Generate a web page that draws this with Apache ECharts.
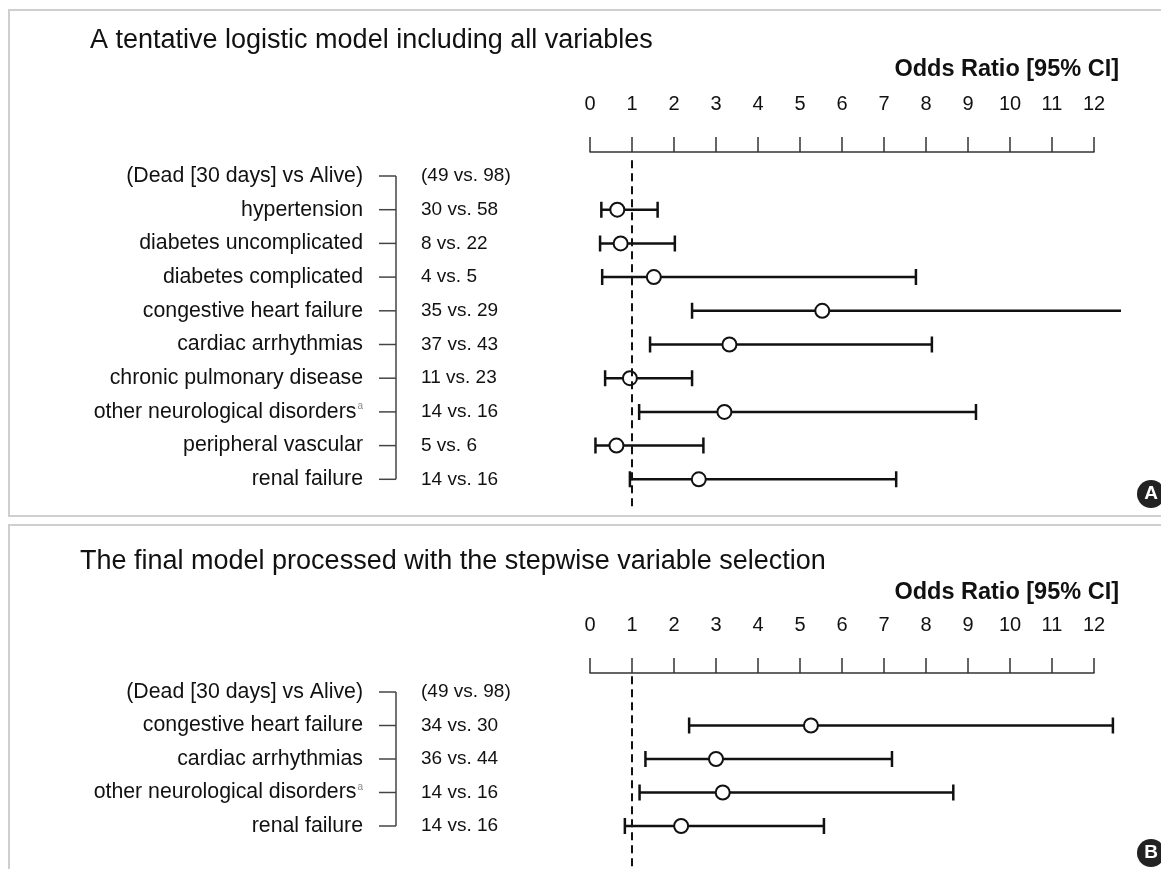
<!DOCTYPE html>
<html><head><meta charset="utf-8">
<script src="https://cdn.jsdelivr.net/npm/echarts@6/dist/echarts.min.js"></script>
<style>html,body{margin:0;padding:0;background:#fff}#c{width:1161px;height:869px}</style>
</head><body><div id="c"></div>
<script>
// ---------- data ----------
const headerLabel = '(Dead [30 days] vs Alive)';
const headerCount = '(49 vs. 98)';
const titleA = 'A tentative logistic model including all variables';
const titleB = 'The final model processed with the stepwise variable selection';
const axisTitle = 'Odds Ratio [95% CI]';
const tickValues = [0,1,2,3,4,5,6,7,8,9,10,11,12];

const rowsA = ['hypertension','diabetes uncomplicated','diabetes complicated','congestive heart failure','cardiac arrhythmias','chronic pulmonary disease','other neurological disorders^a','peripheral vascular','renal failure'];
const countsA = ['30 vs. 58','8 vs. 22','4 vs. 5','35 vs. 29','37 vs. 43','11 vs. 23','14 vs. 16','5 vs. 6','14 vs. 16'];
const orA  = [0.65,0.73,1.52,5.53,3.32,0.95,3.20,0.63,2.59];
const lowA = [0.27,0.24,0.29,2.43,1.43,0.36,1.17,0.13,0.95];
const upA  = [1.61,2.02,7.76,13.5,8.14,2.43,9.19,2.70,7.29];

const rowsB = ['congestive heart failure','cardiac arrhythmias','other neurological disorders^a','renal failure'];
const countsB = ['34 vs. 30','36 vs. 44','14 vs. 16','14 vs. 16'];
const orB  = [5.26,3.00,3.16,2.17];
const lowB = [2.36,1.32,1.18,0.83];
const upB  = [12.45,7.19,8.65,5.57];

// ---------- build ----------
const FONT = '"Liberation Sans", Arial, Helvetica, sans-serif';
const catsA = [headerLabel].concat(rowsA);
const catsB = [headerLabel].concat(rowsB);
const cntA = [headerCount].concat(countsA);
const cntB = [headerCount].concat(countsB);

function labelFmt(v){
  return v.endsWith('^a') ? '{n|' + v.slice(0,-2) + '}{s|a}' : '{n|' + v + '}';
}
const labelRich = {
  n: {fontSize: 21.3, color: '#111', fontFamily: FONT},
  s: {fontSize: 10, color: '#888', fontFamily: FONT, verticalAlign: 'top', padding: [0,0,10,1]}
};

function axisX(gridIndex){
  return {
    gridIndex, type: 'value', min: 0, max: 12, interval: 1, position: 'top',
    axisLine: {show: true, onZero: false, lineStyle: {color: '#333', width: 1.5}},
    axisTick: {show: true, length: 15, lineStyle: {color: '#333', width: 1.5}},
    axisLabel: {fontSize: 20, color: '#111', margin: 38, fontFamily: FONT,
      formatter: v => tickValues.indexOf(v) >= 0 ? String(v) : ''},
    splitLine: {show: false}
  };
}
function dataX(gridIndex){
  return {gridIndex, type: 'value', min: 0, max: 12.62, show: false};
}
function dataY(gridIndex, cats){
  return {
    gridIndex, type: 'category', inverse: true, data: cats, position: 'left',
    axisLine: {show: false}, axisTick: {show: false}, splitLine: {show: false},
    axisLabel: {margin: 227, formatter: labelFmt, rich: labelRich}
  };
}

function ciSeries(xi, yi, low, est, up){
  const data = low.map((l, k) => [k + 1, l, est[k], up[k]]);
  return {
    type: 'custom', xAxisIndex: xi, yAxisIndex: yi, clip: true, silent: true, z: 2,
    encode: {x: [1, 3], y: 0},
    data,
    renderItem(params, api){
      const r = api.value(0);
      const y = api.coord([0, r])[1];
      const xl = api.coord([api.value(1), r])[0];
      const xu = api.coord([api.value(3), r])[0];
      const st = {stroke: '#111', lineWidth: 2.5};
      return {type: 'group', children: [
        {type: 'line', shape: {x1: xl, y1: y, x2: xu, y2: y}, style: st},
        {type: 'line', shape: {x1: xl, y1: y - 8, x2: xl, y2: y + 8}, style: st},
        {type: 'line', shape: {x1: xu, y1: y - 8, x2: xu, y2: y + 8}, style: st}
      ]};
    }
  };
}
function pointSeries(xi, yi, est){
  return {
    type: 'scatter', xAxisIndex: xi, yAxisIndex: yi, silent: true, z: 3,
    symbol: 'circle', symbolSize: 14,
    itemStyle: {color: '#fff', borderColor: '#111', borderWidth: 2, opacity: 1},
    data: est.map((e, k) => [e, k + 1])
  };
}
function refSeries(xi, yi, ext){
  return {
    type: 'custom', xAxisIndex: xi, yAxisIndex: yi, clip: false, silent: true, z: 4,
    data: [[1, 0]],
    renderItem(params, api){
      const x = api.coord([api.value(0), 0])[0];
      const cs = params.coordSys;
      return {type: 'line', shape: {x1: x, y1: cs.y + 1, x2: x, y2: cs.y + cs.height + ext},
        style: {stroke: '#111', lineWidth: 2, lineDash: [8, 5]}};
    }
  };
}
function countSeries(xi, yi, counts){
  const n = counts.length;
  return {
    type: 'custom', xAxisIndex: xi, yAxisIndex: yi, clip: false, silent: true, z: 2,
    data: counts.map((c, k) => [0, k]),
    renderItem(params, api){
      const k = api.value(1);
      const y = api.coord([0, k])[1];
      const cs = params.coordSys;
      const bx = cs.x - 194;
      const st = {stroke: '#444', lineWidth: 1.5};
      const ch = [
        {type: 'text', style: {text: counts[k], x: cs.x - 169, y: y, textVerticalAlign: 'middle',
          textAlign: 'left', font: '19px ' + FONT, fill: '#111'}},
        {type: 'line', shape: {x1: bx - 17, y1: y, x2: bx, y2: y}, style: st}
      ];
      if (k === 0) {
        const yl = api.coord([0, n - 1])[1];
        ch.push({type: 'line', shape: {x1: bx, y1: y, x2: bx, y2: yl}, style: st});
      }
      return {type: 'group', children: ch};
    }
  };
}

const option = {
  animation: false,
  backgroundColor: '#fff',
  textStyle: {fontFamily: FONT},
  title: [
    {text: titleA, left: 90, top: 27, padding: 0, textStyle: {fontSize: 27, fontWeight: 'normal', color: '#111', fontFamily: FONT}},
    {text: axisTitle, right: 42, top: 58, padding: 0, textStyle: {fontSize: 23.5, fontWeight: 'bold', color: '#111', fontFamily: FONT}},
    {text: titleB, left: 80, top: 548, padding: 0, textStyle: {fontSize: 27, fontWeight: 'normal', color: '#111', fontFamily: FONT}},
    {text: axisTitle, right: 42, top: 581, padding: 0, textStyle: {fontSize: 23.5, fontWeight: 'bold', color: '#111', fontFamily: FONT}}
  ],
  grid: [
    {left: 590, top: 152, width: 504, height: 10},
    {left: 590, top: 159.15, width: 530.04, height: 337},
    {left: 590, top: 673, width: 504, height: 10},
    {left: 590, top: 675.25, width: 530.04, height: 167.5}
  ],
  xAxis: [axisX(0), dataX(1), axisX(2), dataX(3)],
  yAxis: [
    {gridIndex: 0, type: 'value', show: false},
    dataY(1, catsA),
    {gridIndex: 2, type: 'value', show: false},
    dataY(3, catsB)
  ],
  series: [
    countSeries(1, 1, cntA),
    ciSeries(1, 1, lowA, orA, upA),
    pointSeries(1, 1, orA),
    refSeries(1, 1, 14),
    countSeries(3, 3, cntB),
    ciSeries(3, 3, lowB, orB, upB),
    pointSeries(3, 3, orB),
    refSeries(3, 3, 40)
  ],
  graphic: [
    {type: 'rect', shape: {x: 9, y: 10, width: 1170, height: 506}, style: {fill: 'none', stroke: '#cfcfcf', lineWidth: 2}, silent: true},
    {type: 'rect', shape: {x: 9, y: 525, width: 1170, height: 400}, style: {fill: 'none', stroke: '#cfcfcf', lineWidth: 2}, silent: true},
    {type: 'circle', shape: {cx: 1151, cy: 494, r: 14}, style: {fill: '#222'}, silent: true, z: 10},
    {type: 'text', x: 1151, y: 494, style: {text: 'A', font: 'bold 19px ' + FONT, fill: '#fff', textAlign: 'center', textVerticalAlign: 'middle'}, silent: true, z: 11},
    {type: 'circle', shape: {cx: 1151, cy: 853, r: 14}, style: {fill: '#222'}, silent: true, z: 10},
    {type: 'text', x: 1151, y: 853, style: {text: 'B', font: 'bold 19px ' + FONT, fill: '#fff', textAlign: 'center', textVerticalAlign: 'middle'}, silent: true, z: 11}
  ]
};
const chart = echarts.init(document.getElementById('c'), null, {renderer: 'canvas'});
chart.setOption(option);
</script></body></html>
